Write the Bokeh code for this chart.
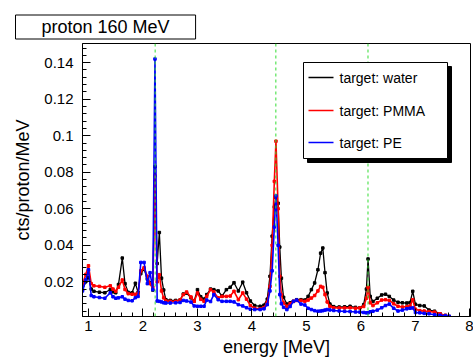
from bokeh.plotting import figure
from bokeh.models import (Range1d, FixedTicker, CustomJSTickFormatter, Label,
                          BoxAnnotation, Span, Title)
from bokeh.embed import file_html
from bokeh.resources import INLINE

# ---------------- data ----------------
energy = [
    0.89, 0.95, 1.00, 1.05, 1.10, 1.20, 1.30, 1.40, 1.45, 1.50,
    1.55, 1.62, 1.67, 1.73, 1.80, 1.86, 1.91, 1.96, 2.02, 2.08,
    2.13, 2.18, 2.22, 2.26, 2.30, 2.34, 2.38, 2.42, 2.50, 2.60,
    2.68, 2.74, 2.80, 2.88, 2.94, 3.00, 3.06, 3.12, 3.17, 3.24,
    3.30, 3.38, 3.45, 3.53, 3.60, 3.67, 3.75, 3.83, 3.90, 3.97,
    4.05, 4.15, 4.22, 4.28, 4.33, 4.37, 4.41, 4.44, 4.48, 4.51,
    4.54, 4.58, 4.64, 4.70, 4.76, 4.82, 4.90, 4.97, 5.03, 5.09,
    5.15, 5.21, 5.26, 5.30, 5.34, 5.38, 5.43, 5.50, 5.60, 5.70,
    5.80, 5.90, 5.98, 6.05, 6.10, 6.13, 6.17, 6.22, 6.30, 6.38,
    6.45, 6.52, 6.60, 6.68, 6.76, 6.84, 6.90, 6.95, 7.00, 7.08,
    7.16, 7.25, 7.35, 7.45, 7.55, 7.62]

water = [
    0.0157, 0.0200, 0.0225, 0.0160, 0.0148, 0.0143, 0.0140, 0.0158, 0.0145, 0.0140,
    0.0185, 0.0330, 0.0190, 0.0142, 0.0140, 0.0192, 0.0142, 0.0245, 0.0270, 0.0215,
    0.0195, 0.0155, 0.0830, 0.0300, 0.0470, 0.0220, 0.0155, 0.0102, 0.0098, 0.0098,
    0.0100, 0.0133, 0.0138, 0.0112, 0.0095, 0.0157, 0.0118, 0.0105, 0.0130, 0.0160,
    0.0157, 0.0150, 0.0122, 0.0157, 0.0170, 0.0195, 0.0150, 0.0198, 0.0140, 0.0095,
    0.0070, 0.0066, 0.0072, 0.0105, 0.0230, 0.0450, 0.0610, 0.0660, 0.0630, 0.0390,
    0.0220, 0.0115, 0.0078, 0.0085, 0.0093, 0.0102, 0.0102, 0.0100, 0.0120, 0.0157,
    0.0194, 0.0266, 0.0357, 0.0385, 0.0250, 0.0139, 0.0078, 0.0064, 0.0062, 0.0063,
    0.0066, 0.0060, 0.0058, 0.0075, 0.0160, 0.0325, 0.0120, 0.0092, 0.0110, 0.0128,
    0.0132, 0.0120, 0.0100, 0.0088, 0.0085, 0.0084, 0.0086, 0.0148, 0.0077, 0.0070,
    0.0068, 0.0045, 0.0039, 0.0025, 0.0016, 0.0010]

pmma = [
    0.0188, 0.0240, 0.0288, 0.0190, 0.0178, 0.0175, 0.0170, 0.0178, 0.0160, 0.0148,
    0.0170, 0.0210, 0.0158, 0.0135, 0.0132, 0.0132, 0.0135, 0.0260, 0.0277, 0.0230,
    0.0190, 0.0170, 0.0780, 0.0200, 0.0239, 0.0150, 0.0112, 0.0095, 0.0093, 0.0093,
    0.0100, 0.0130, 0.0144, 0.0117, 0.0093, 0.0139, 0.0104, 0.0093, 0.0120, 0.0157,
    0.0145, 0.0112, 0.0120, 0.0120, 0.0122, 0.0148, 0.0102, 0.0139, 0.0105, 0.0070,
    0.0055, 0.0052, 0.0058, 0.0088, 0.0175, 0.0400, 0.0750, 0.0970, 0.0600, 0.0230,
    0.0130, 0.0084, 0.0066, 0.0080, 0.0093, 0.0098, 0.0098, 0.0093, 0.0100, 0.0111,
    0.0125, 0.0150, 0.0175, 0.0170, 0.0130, 0.0090, 0.0066, 0.0058, 0.0057, 0.0057,
    0.0058, 0.0055, 0.0057, 0.0065, 0.0110, 0.0170, 0.0085, 0.0070, 0.0085, 0.0100,
    0.0102, 0.0098, 0.0080, 0.0066, 0.0062, 0.0064, 0.0068, 0.0102, 0.0050, 0.0042,
    0.0040, 0.0037, 0.0034, 0.0025, 0.0016, 0.0010]

pe = [
    0.0150, 0.0210, 0.0266, 0.0125, 0.0118, 0.0114, 0.0110, 0.0140, 0.0118, 0.0110,
    0.0112, 0.0118, 0.0105, 0.0098, 0.0096, 0.0113, 0.0120, 0.0306, 0.0306, 0.0190,
    0.0250, 0.0157, 0.1420, 0.0095, 0.0093, 0.0090, 0.0085, 0.0084, 0.0084, 0.0085,
    0.0087, 0.0098, 0.0095, 0.0089, 0.0068, 0.0066, 0.0066, 0.0066, 0.0100, 0.0092,
    0.0130, 0.0102, 0.0093, 0.0093, 0.0093, 0.0090, 0.0075, 0.0068, 0.0058, 0.0050,
    0.0048, 0.0048, 0.0052, 0.0075, 0.0150, 0.0260, 0.0500, 0.0670, 0.0400, 0.0130,
    0.0080, 0.0060, 0.0048, 0.0065, 0.0093, 0.0100, 0.0078, 0.0073, 0.0055, 0.0048,
    0.0042, 0.0039, 0.0040, 0.0042, 0.0045, 0.0048, 0.0046, 0.0043, 0.0040, 0.0038,
    0.0037, 0.0035, 0.0034, 0.0032, 0.0030, 0.0030, 0.0036, 0.0039, 0.0045, 0.0058,
    0.0070, 0.0078, 0.0055, 0.0040, 0.0045, 0.0052, 0.0055, 0.0057, 0.0032, 0.0030,
    0.0027, 0.0025, 0.0020, 0.0017, 0.0014, 0.0011]

gamma_lines = [2.223, 4.438, 6.129]
x_ticks = [1, 2, 3, 4, 5, 6, 7, 8]
y_ticks = [0.02, 0.04, 0.06, 0.08, 0.10, 0.12, 0.14]
series_names = ["target: water", "target: PMMA", "target: PE"]
series_colors = ["black", "#ff0000", "#0000ff"]
title_text = "proton 160 MeV"
x_title = "energy [MeV]"
y_title = "cts/proton/MeV"

FONT = "Liberation Sans"

# ---------------- figure ----------------
W, H = 473, 361
FL, FR, FT, FB = 82, 3, 43, 45      # frame borders (px)

p = figure(width=W, height=H, output_backend="svg", toolbar_location=None,
           x_range=Range1d(0.89, 8.01), y_range=Range1d(0.001, 0.1505),
           min_border_left=FL, min_border_right=FR, min_border_top=FT,
           min_border_bottom=FB)
p.background_fill_color = "white"
p.border_fill_color = "white"
p.outline_line_color = "black"
p.outline_line_width = 1
p.xgrid.visible = False
p.ygrid.visible = False

minor_x = [1 + 0.2 * i for i in range(-1, 36)]
minor_y = [0.004 * i for i in range(1, 38)]
p.xaxis.ticker = FixedTicker(ticks=x_ticks, minor_ticks=minor_x)
p.yaxis.ticker = FixedTicker(ticks=y_ticks, minor_ticks=minor_y)
p.yaxis.formatter = CustomJSTickFormatter(
    code="return tick.toFixed(2).replace(/0+$/, '').replace(/\\.$/, '');")

for ax in (p.xaxis[0], p.yaxis[0]):
    ax.axis_line_color = "black"
    ax.major_tick_line_color = "black"
    ax.minor_tick_line_color = "black"
    ax.major_tick_in = 8
    ax.major_tick_out = 0
    ax.minor_tick_in = 4
    ax.minor_tick_out = 0
    ax.major_label_text_font = FONT
    ax.major_label_text_font_size = "15px"
    ax.major_label_text_color = "black"
    ax.axis_label_text_font = FONT
    ax.axis_label_text_font_size = "18px"
    ax.axis_label_text_font_style = "normal"
    ax.axis_label_text_color = "black"
p.yaxis.major_label_standoff = 9
p.xaxis.major_label_standoff = 4
p.xaxis.axis_label = x_title
p.yaxis.axis_label = y_title
p.xaxis.axis_label_standoff = 3
p.yaxis.axis_label_standoff = 8

# title box (white, bordered)
PAD = dict(top=2, right=26, bottom=2, left=26)
p.title = Title(text=title_text, align="left", offset=-67, standoff=9,
                text_font=FONT, text_font_size="18px", text_font_style="normal",
                text_color="black", border_line_color="black", border_line_width=1,
                background_fill_color="white", padding=PAD)

# curves
for vals, col, lw in zip([water, pmma, pe], series_colors, [1.3, 1.6, 1.6]):
    p.line(energy, vals, line_color=col, line_width=lw)
    p.scatter(energy, vals, marker="square", size=2.5, fill_color=col,
              line_color=col)

# gamma lines
for e in gamma_lines:
    p.add_layout(Span(location=e, dimension="height", line_color="#33dd33",
                      line_dash="3 3", line_width=1))

# helpers: canvas px -> frame-relative screen units
def fx(x):
    return x - FL

def fy(y):
    return (H - FB) - y

def box(x0, y0, x1, y1, fill="white", line="black", lw=1, level="overlay"):
    p.add_layout(BoxAnnotation(left=fx(x0), right=fx(x1), top=fy(y0), bottom=fy(y1),
                               left_units="screen", right_units="screen",
                               top_units="screen", bottom_units="screen",
                               fill_color=fill, fill_alpha=1,
                               line_color=line if line else "black", line_width=lw,
                               line_alpha=1 if line else 0, level=level))

# legend box with shadow
box(307, 66, 451, 162, fill="black", line="black")
box(303, 62, 447, 158, fill="white", line="black")
rows = [77, 110, 142]
for name, col, yy in zip(series_names, series_colors, rows):
    box(308, yy - 0.8, 333, yy + 0.8, fill=col, line=None)
    p.add_layout(Label(x=fx(339), y=fy(yy), x_units="screen", y_units="screen",
                       text=name, text_font=FONT, text_font_size="14px",
                       text_align="left", text_baseline="middle", text_color="black",
                       level="overlay"))

open("out.html", "w").write(file_html(p, INLINE))
